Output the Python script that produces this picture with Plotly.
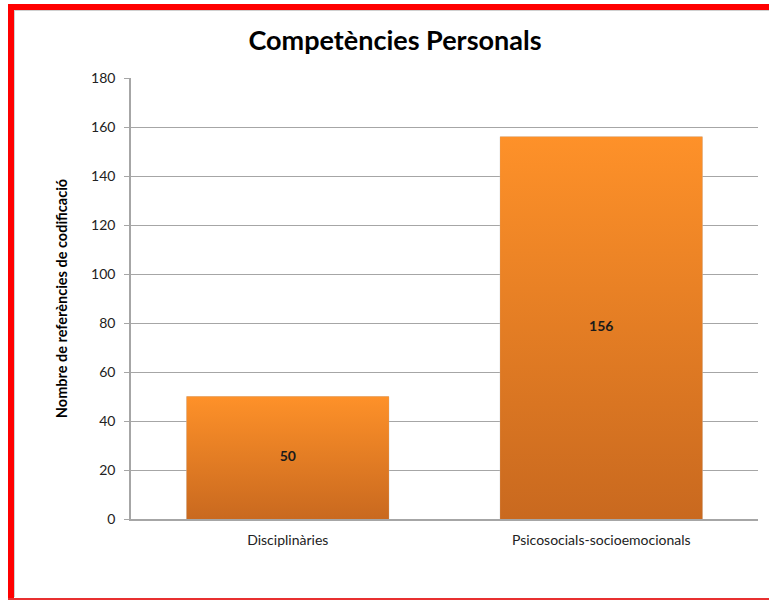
import plotly.graph_objects as go

# Data
categories = ["Disciplinàries", "Psicosocials-socioemocionals"]
values = [50, 156]
y_ticks = [0, 20, 40, 60, 80, 100, 120, 140, 160, 180]

title_text = "Competències Personals"
y_title = "Nombre de referències de codificació"

# Figure geometry (pixels)
W, H = 769, 600
ML, MR, MT, MB = 131, 11, 78, 81
PW, PH = W - ML - MR, H - MT - MB
BAR_W = 0.645

TOP_COLOR = "#FE9129"
BOT_COLOR = "#C9691F"
FONT = "Lato, 'Open Sans', sans-serif"


def px_x(x):
    return (x - ML) / PW


def px_y(y):
    return (H - MB - y) / PH


xs = list(range(len(categories)))

fig = go.Figure()

# Base bars
fig.add_trace(go.Bar(
    x=xs, y=values, width=BAR_W,
    marker=dict(color="#E57D25", line=dict(color="rgba(200,200,200,0.6)", width=1)),
    hoverinfo="skip", showlegend=False,
))

# Vertical gradient overlay on each bar, built from the same values
for i, v in zip(xs, values):
    x0, x1 = i - BAR_W / 2, i + BAR_W / 2
    fig.add_trace(go.Scatter(
        x=[x0, x1, x1, x0, x0], y=[0, 0, v, v, 0],
        mode="lines", fill="toself", line=dict(width=0),
        fillgradient=dict(type="vertical",
                          colorscale=[[0, BOT_COLOR], [1, TOP_COLOR]]),
        hoverinfo="skip", showlegend=False,
    ))

# Value labels in the middle of each bar
fig.add_trace(go.Scatter(
    x=xs, y=[v / 2 for v in values], mode="text",
    text=[str(v) for v in values],
    textfont=dict(family=FONT, size=14, color="#1a1a1a", weight="bold"),
    textposition="middle center",
    hoverinfo="skip", showlegend=False,
))

# Frame decoration: red border on left, top and bottom
shapes = [
    dict(type="rect", xref="paper", yref="paper",
         x0=px_x(8), x1=px_x(14), y0=px_y(600), y1=px_y(4),
         fillcolor="#FF0000", line=dict(width=0), layer="above"),
    dict(type="rect", xref="paper", yref="paper",
         x0=px_x(8), x1=px_x(769), y0=px_y(10), y1=px_y(4),
         fillcolor="#FF0000", line=dict(width=0), layer="above"),
    dict(type="rect", xref="paper", yref="paper",
         x0=px_x(8), x1=px_x(769), y0=px_y(600), y1=px_y(598),
         fillcolor="#E83030", line=dict(width=0), layer="above"),
    dict(type="line", xref="paper", yref="paper",
         x0=px_x(14), x1=px_x(769), y0=px_y(10.5), y1=px_y(10.5),
         line=dict(color="#D0D0D0", width=1), layer="above"),
    dict(type="line", xref="paper", yref="paper",
         x0=px_x(14.5), x1=px_x(14.5), y0=px_y(597), y1=px_y(10),
         line=dict(color="#D0D0D0", width=1), layer="above"),
]

fig.update_layout(
    width=W, height=H,
    margin=dict(l=ML, r=MR, t=MT, b=MB),
    paper_bgcolor="white", plot_bgcolor="white",
    shapes=shapes,
    title=dict(text=title_text, xref="container", x=395 / W, xanchor="center",
               yref="container", y=1 - 41 / H, yanchor="middle",
               font=dict(family=FONT, size=27, color="#000000", weight="bold")),
    font=dict(family=FONT, color="#222222"),
    showlegend=False,
)

fig.update_xaxes(
    tickmode="array", tickvals=xs, ticktext=categories,
    range=[-0.5, len(categories) - 0.5],
    showgrid=False, zeroline=False,
    showline=True, linecolor="#A6A6A6", linewidth=1.5,
    ticks="", ticklabelstandoff=7,
    tickfont=dict(family=FONT, size=14, color="#222222"),
)

fig.update_yaxes(
    range=[0, 180], tickmode="array", tickvals=y_ticks,
    showgrid=True, gridcolor="#A6A6A6", gridwidth=1,
    zeroline=False,
    showline=True, linecolor="#A6A6A6", linewidth=1.5,
    ticks="outside", ticklen=5, tickcolor="#A6A6A6",
    ticklabelstandoff=6,
    tickfont=dict(family=FONT, size=14, color="#222222"),
    title=dict(text=y_title, standoff=20,
               font=dict(family=FONT, size=14.5, color="#000000", weight="bold")),
)

fig.write_html("out.html")
